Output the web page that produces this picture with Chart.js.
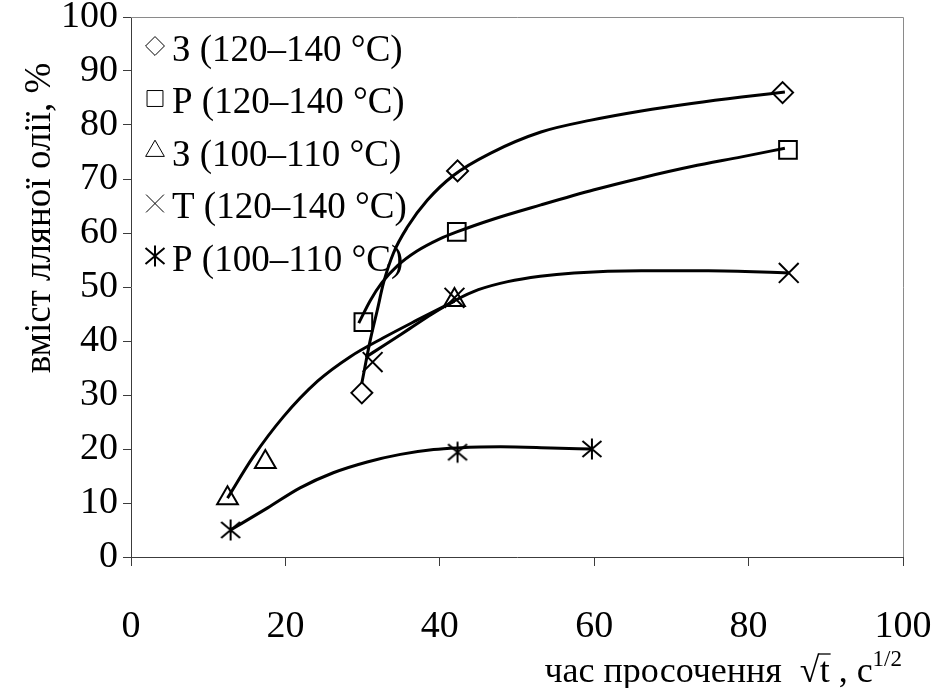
<!DOCTYPE html>
<html>
<head>
<meta charset="utf-8">
<script src="https://cdn.jsdelivr.net/npm/chart.js@4.4.1/dist/chart.umd.min.js"></script>
<style>
  html, body { margin: 0; padding: 0; background: #fff; }
</style>
</head>
<body>
<canvas id="chart" width="936" height="688"></canvas>
<script>
// Підписи серій
const labels = ['З (120–140 °C)', 'Р (120–140 °C)', 'З (100–110 °C)', 'Т (120–140 °C)', 'Р (100–110 °C)'];

// Експериментальні точки (√t, вміст олії %)
const z1X = [29.9, 42.3, 84.4];
const z1Y = [30.4, 71.5, 86.0];
const r1X = [30.1, 42.2, 85.1];
const r1Y = [43.5, 60.2, 75.4];
const z2X = [12.5, 17.4, 41.9];
const z2Y = [10.9, 17.6, 47.6];
const t1X = [31.3, 41.9, 85.2];
const t1Y = [36.1, 48.0, 52.6];
const r2X = [12.9, 42.3, 59.7];
const r2Y = [5.0, 19.4, 20.0];

// Лінії тренду
const z1TrendX = [29.9, 31.0, 31.9, 32.7, 34.0, 35.8, 38.4, 41.8, 46.6, 53.1, 59.6, 66.1, 72.6, 79.1, 84.7];
const z1TrendY = [32.2, 40.2, 45.7, 50.7, 56.3, 61.1, 66.1, 70.7, 74.8, 78.7, 80.9, 82.6, 84.0, 85.2, 86.1];
const r1TrendX = [29.5, 31.0, 32.5, 34.5, 37.0, 40.0, 42.2, 47.0, 53.1, 60.0, 66.1, 72.6, 79.1, 84.7];
const r1TrendY = [43.3, 47.5, 50.8, 53.9, 56.6, 58.9, 60.2, 62.6, 65.2, 68.0, 70.2, 72.3, 74.1, 75.7];
const z2TrendX = [12.5, 15.8, 19.7, 24.2, 28.4, 32.7, 37.1, 41.9];
const z2TrendY = [10.9, 18.5, 25.9, 32.6, 37.1, 40.6, 43.9, 47.4];
const t1TrendX = [30.4, 33.0, 36.0, 39.0, 42.1, 45.0, 48.8, 53.0, 57.4, 66.1, 74.8, 85.2];
const t1TrendY = [37.0, 39.4, 42.2, 45.0, 47.6, 49.5, 51.0, 52.0, 52.6, 53.0, 53.0, 52.6];
const r2TrendX = [12.9, 17.7, 21.9, 26.2, 30.6, 34.9, 39.2, 42.3, 47.9, 54.4, 59.6];
const r2TrendY = [5.0, 9.1, 12.8, 15.6, 17.6, 19.0, 19.9, 20.2, 20.4, 20.2, 20.0];

// Поділки осей
const xTicks = [0, 20, 40, 60, 80, 100];
const yTicks = [0, 10, 20, 30, 40, 50, 60, 70, 80, 90, 100];

const yTitle = 'вміст лляної олії, %';
const xTitle = 'час просочення';

const serif = '"Liberation Serif", "Times New Roman", serif';
const axisColor = '#3c3c3c';

const pts = (xs, ys) => xs.map((x, i) => ({ x: x, y: ys[i] }));

// зірочка (вертикаль + косий хрест)
function makeAsterisk() {
	const c = document.createElement('canvas');
	c.width = 24;
	c.height = 24;
	const g = c.getContext('2d');
	g.strokeStyle = '#000';
	g.lineWidth = 2;
	g.beginPath();
	g.moveTo(12, 1.5); g.lineTo(12, 22.5);
	g.moveTo(2.5, 4); g.lineTo(21.5, 20);
	g.moveTo(2.5, 20); g.lineTo(21.5, 4);
	g.stroke();
	return c;
}
const asterisk = makeAsterisk();

const markerStyles = [
	{ pointStyle: 'rectRot', radius: 10.5 },
	{ pointStyle: 'rect', radius: 12.5 },
	{ pointStyle: 'triangle', radius: 12 },
	{ pointStyle: 'crossRot', radius: 14 },
	{ pointStyle: asterisk, radius: 11 }
];

const markerData = [pts(z1X, z1Y), pts(r1X, r1Y), pts(z2X, z2Y), pts(t1X, t1Y), pts(r2X, r2Y)];
const trendData = [
	pts(z1TrendX, z1TrendY), pts(r1TrendX, r1TrendY), pts(z2TrendX, z2TrendY),
	pts(t1TrendX, t1TrendY), pts(r2TrendX, r2TrendY)
];

const datasets = [];
trendData.forEach((d) => {
	datasets.push({
		data: d,
		showLine: true,
		borderColor: '#000',
		borderWidth: 3,
		pointRadius: 0,
		cubicInterpolationMode: 'monotone',
		order: 2
	});
});
markerData.forEach((d, i) => {
	datasets.push({
		label: labels[i],
		data: d,
		showLine: false,
		pointStyle: markerStyles[i].pointStyle,
		pointRadius: markerStyles[i].radius,
		pointBorderWidth: 2,
		pointBorderColor: '#000',
		pointBackgroundColor: 'rgba(0,0,0,0)',
		order: 1
	});
});

// рамка, легенда, підписи осей
const extras = {
	id: 'extras',
	afterDraw(chart) {
		const { ctx, chartArea: a } = chart;
		ctx.save();

		ctx.strokeStyle = '#8a8a8a';
		ctx.lineWidth = 1;
		ctx.beginPath();
		ctx.moveTo(a.left, a.top + 0.5);
		ctx.lineTo(a.right + 0.5, a.top + 0.5);
		ctx.lineTo(a.right + 0.5, a.bottom);
		ctx.stroke();

		// легенда
		ctx.font = '37px ' + serif;
		ctx.textAlign = 'left';
		ctx.textBaseline = 'middle';
		labels.forEach((lab, i) => {
			const y = 51 + i * 52.5;
			const st = markerStyles[i];
			const r = i === 4 ? 11 : st.radius * 0.9;
			ctx.strokeStyle = '#000';
			ctx.fillStyle = 'rgba(0,0,0,0)';
			Chart.helpers.drawPoint(ctx, { pointStyle: st.pointStyle, radius: r, rotation: 0, borderWidth: 2 }, 155, y - 5);
			ctx.fillStyle = '#000';
			ctx.fillText(lab, 172, y);
		});

		// назва осі Y
		ctx.save();
		ctx.translate(40, 218);
		ctx.rotate(-Math.PI / 2);
		ctx.textAlign = 'center';
		ctx.textBaseline = 'middle';
		ctx.font = '37px ' + serif;
		ctx.fillText(yTitle, 0, 0);
		ctx.restore();

		// назва осі X: час просочення √t , c^1/2
		const base = 682;
		const big = '36px ' + serif;
		const small = '23px ' + serif;
		ctx.textBaseline = 'alphabetic';
		ctx.font = big;
		const w1 = ctx.measureText(xTitle + '  ').width;
		const wRad = ctx.measureText('√').width;
		const wT = ctx.measureText('t').width;
		const w2 = ctx.measureText(' , c').width;
		ctx.font = small;
		const wSup = ctx.measureText('1/2').width;
		let x = 902 - (w1 + wRad + wT + w2 + wSup);
		ctx.font = big;
		ctx.fillText(xTitle + '  ', x, base);
		x += w1;
		ctx.fillText('√', x, base);
		x += wRad;
		ctx.fillText('t', x, base);
		ctx.lineWidth = 1.3;
		ctx.strokeStyle = '#000';
		ctx.beginPath();
		ctx.moveTo(x - 1, base - 28);
		ctx.lineTo(x + wT + 1, base - 28);
		ctx.stroke();
		x += wT;
		ctx.fillText(' , c', x, base);
		x += w2;
		ctx.font = small;
		ctx.fillText('1/2', x, base - 16);

		ctx.restore();
	}
};

const canvas = document.getElementById('chart');

const graph = new Chart(canvas, {
	type: 'scatter',
	data: { datasets: datasets },
	options: {
		responsive: false,
		animation: false,
		layout: { autoPadding: false, padding: { left: 0, right: 33, top: 17, bottom: 0 } },
		plugins: { legend: { display: false }, tooltip: { enabled: false } },
		scales: {
			x: {
				type: 'linear',
				min: 0,
				max: 100,
				afterBuildTicks: (s) => { s.ticks = xTicks.map((v) => ({ value: v })); },
				afterFit: (s) => {
					s.height = 131;
					s.paddingLeft = 0;
					s.paddingRight = 0;
				},
				grid: { drawOnChartArea: false, tickLength: 9, color: axisColor, lineWidth: 1 },
				border: { color: axisColor, width: 1 },
				ticks: { color: '#000', font: { family: serif, size: 38 }, padding: 38, maxRotation: 0 }
			},
			y: {
				type: 'linear',
				min: 0,
				max: 100,
				afterBuildTicks: (s) => { s.ticks = yTicks.map((v) => ({ value: v })); },
				afterFit: (s) => {
					s.width = 131;
					s.paddingTop = 0;
					s.paddingBottom = 0;
				},
				grid: { drawOnChartArea: false, tickLength: 8, color: axisColor, lineWidth: 1 },
				border: { color: axisColor, width: 1 },
				ticks: { color: '#000', font: { family: serif, size: 38 }, padding: 5 }
			}
		}
	},
	plugins: [extras]
});
</script>
</body>
</html>
